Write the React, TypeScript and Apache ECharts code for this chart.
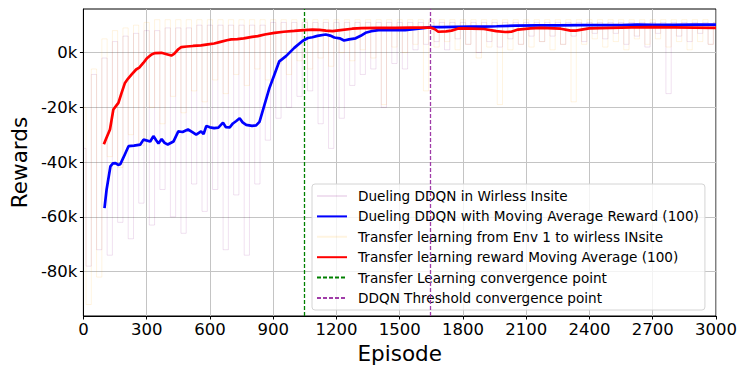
import React, { useEffect, useRef } from "react";
import * as echarts from "echarts";

// ---- data (values in thousands of reward) ----
const xTicksInterval = 300;
const yTickValues = [-80000, -60000, -40000, -20000, 0];
const yMin = -96200;
const yMax = 15900;

// raw episode rewards sampled every 25 episodes (k)
const rawStep = 25;
const ddqnRaw = [
  -35, -78, -8, -72, -2, -74, 4, -62, 6, -68, 7, -55, 8, -63, 8, -50, 9, -60, 9, -66,
  9, -48, 10, -58, 10, -50, 10, -72, 10, -52, 10, -74, 10, -48, 10, -32, 11, -24, 11, -20,
  11, -16, 11, -14, 11, -26, 11, -35, 11, -24, 11, -12, 11, -8, 11, -6, 11, -20, 11, -4,
  11, -6, 11, 1, 11, 3, 11, 4, 11, 1, 11, 5, 11, 3, 11, 0, 11, 4, 11, 2,
  11, 5, 11, 3, 11, 6, 11, 4, 11, 6, 11, 3, 11, 6, 11, 4, 11, 7, 11, 5,
  11, 7, 11, 3, 11, 6, 11, 2, 11, 7, 11, -15, 11, 6, 11, 4, 11, 7, 11, 3, 11,
];
const transferRaw = [
  -20, -92, -6, -82, 5, -38, 8, -42, 9, -30, 10, -34, 11, -20, 12, -26, 12, -16, 12, -22,
  12, -14, 12, -18, 12, -10, 12, -15, 12, -8, 12, -12, 12, -6, 12, -10, 12, -4, 12, -8,
  12, -3, 12, -6, 12, -2, 12, -5, 12, 0, 12, -3, 12, 1, 12, -2, 12, -19, 12, 2,
  12, 0, 12, 3, 12, -14, 12, 2, 12, 4, 12, 1, 12, 3, 12, -2, 12, 2, 12, -19,
  12, 1, 12, 3, 12, 2, 12, 4, 12, 1, 12, 3, 12, -18, 12, 3, 12, 5, 12, 2,
  12, 4, 12, 1, 12, 5, 12, 3, 12, 5, 12, 2, 12, 4, 12, 1, 12, 4, 12, 3, 11,
];

// moving averages (100) : episode, value (k)
const ddqnMaEp = [
  100, 110, 128, 140, 152, 165, 175, 190, 214, 240, 270, 285, 317, 332, 345, 356, 371, 385, 400, 427,
  450, 470, 496, 515, 535, 558, 570, 583, 600, 620, 640, 662, 675, 694, 709, 725, 741, 755, 772, 800,
  819, 835, 859, 882, 906, 929, 961, 1000, 1039, 1065, 1086, 1110, 1149, 1170, 1190, 1215, 1236, 1260,
  1291, 1315, 1338, 1365, 1400, 1460, 1526, 1600, 1650, 1700, 1760, 1840, 1900, 1960, 2050, 2154, 2250,
  2359, 2450, 2550, 2626, 2700, 2800, 2900, 3000,
];
const ddqnMaVal = [
  -56.8, -50, -41.6, -40.5, -40.4, -41, -40.8, -38.3, -34.2, -34, -33.6, -31.8, -32.5, -30.5, -32, -33.2, -31.6, -33, -33.6, -32.5,
  -28.8, -29, -28.1, -29, -30, -28.8, -29.8, -26.8, -27.3, -27.6, -27.4, -25.6, -27.2, -27.3, -25.9, -25, -24.0, -25.5, -26.4, -26.8,
  -26.6, -25.3, -19, -13, -8, -3.2, -1.3, 1.7, 4.2, 5.3, 5.6, 6.1, 6.6, 6.2, 5.5, 5.2, 4.4, 4.8,
  5.2, 6.1, 7.2, 7.8, 8.2, 8.2, 8.2, 8.8, 9.3, 9.3, 9.4, 9.5, 9.5, 9.6, 9.8, 9.9, 9.9,
  10.0, 10.0, 10.0, 10.2, 10.1, 10.1, 10.2, 10.2,
];
const transferMaEp = [
  97, 110, 126, 135, 142, 155, 166, 180, 197, 212, 229, 250, 265, 284, 300, 323, 340, 370, 395, 417,
  430, 450, 464, 490, 520, 558, 590, 620, 650, 680, 701, 730, 760, 800, 827, 860, 906, 950, 1000, 1047,
  1086, 1120, 1150, 1181, 1220, 1275, 1320, 1400, 1479, 1550, 1647, 1665, 1683, 1720, 1746, 1778, 1840,
  1900, 1958, 2000, 2029, 2061, 2120, 2170, 2264, 2311, 2335, 2398, 2500, 2600, 2700, 2800, 2900, 3000,
];
const transferMaVal = [
  -33.5, -31, -28.1, -24, -20.8, -19.5, -18.4, -15, -11.1, -9.5, -8.0, -6.2, -5.5, -3.8, -2.2, -0.7, -0.2, -0.1, -0.6, -1.1,
  -0.5, 1.2, 2.0, 2.2, 2.4, 2.6, 3.0, 3.3, 3.9, 4.5, 4.8, 4.9, 5.2, 5.7, 6.0, 6.6, 7.2, 7.6, 7.9, 8.2,
  8.4, 8.3, 8.0, 7.8, 8.2, 8.7, 8.9, 9.0, 9.0, 9.1, 9.1, 8.6, 7.6, 7.7, 8.0, 8.8, 8.7,
  8.6, 7.8, 7.5, 7.6, 8.4, 8.8, 9.0, 8.7, 8.0, 8.0, 8.8, 9.0, 9.2, 9.3, 9.2, 9.1, 9.0,
];
const transferConvergence = 1045;
const ddqnConvergence = 1645;

const seriesNames = [
  "Dueling DDQN in Wirless Insite",
  "Dueling DDQN with Moving Average Reward (100)",
  "Transfer learning from Env 1 to wirless INsite",
  "Transfer learning reward Moving Average (100)",
  "Transfer Learning convergence point",
  "DDQN Threshold convergence point",
];

const FONT = "DejaVu Sans";

const rawPairs = (arr: number[]) => arr.map((v, i) => [i * rawStep, v * 1000]);
const maPairs = (eps: number[], vals: number[]) => eps.map((e, i) => [e, vals[i] * 1000]);

export default function App() {
  const ref = useRef<HTMLDivElement>(null);
  useEffect(() => {
    if (!ref.current) return;
    const chart = echarts.init(ref.current, undefined, { renderer: "svg" });
    const vline = (name: string, x: number, color: string, z: number) => ({
      name,
      type: "line",
      data: [],
      symbol: "none",
      z,
      lineStyle: { color, width: 1.3, type: [4, 2] },
      itemStyle: { color },
      markLine: {
        silent: true,
        symbol: "none",
        label: { show: false },
        lineStyle: { color, width: 1.3, type: [4, 2] },
        data: [{ xAxis: x }],
      },
    });
    chart.setOption({
      animation: false,
      grid: {
        left: 80,
        right: 31,
        top: 9,
        bottom: 58,
        show: true,
        borderColor: "#000",
        borderWidth: 1,
        backgroundColor: "transparent",
      },
      legend: {
        orient: "vertical",
        left: 312,
        top: 184,
        padding: [5, 6, 5, 4],
        itemWidth: 30,
        itemHeight: 14,
        itemGap: 6.4,
        itemStyle: { opacity: 0 },
        backgroundColor: "rgba(255,255,255,0.8)",
        borderColor: "#d4d4d4",
        borderWidth: 1,
        borderRadius: 3,
        textStyle: { fontFamily: FONT, fontSize: 13.6, color: "#000", padding: [0, 0, 0, 6] },
        data: seriesNames,
      },
      xAxis: {
        type: "value",
        min: 0,
        max: 3000,
        interval: xTicksInterval,
        name: "Episode",
        nameLocation: "middle",
        nameGap: 21,
        nameTextStyle: { fontFamily: FONT, fontSize: 21.5, color: "#000" },
        axisLine: { show: true, onZero: false, lineStyle: { color: "#000", width: 1 } },
        axisTick: { show: true, length: 3.5, lineStyle: { color: "#000" } },
        axisLabel: {
          fontFamily: FONT,
          fontSize: 16.5,
          color: "#000",
          margin: 5,
          formatter: (v: number) => String(v),
        },
        splitLine: { show: true, lineStyle: { color: "#c4c4c4", width: 1 } },
      },
      yAxis: {
        type: "value",
        min: yMin,
        max: yMax,
        name: "Rewards",
        nameLocation: "middle",
        nameGap: 50,
        nameTextStyle: { fontFamily: FONT, fontSize: 21.5, color: "#000" },
        axisLine: { show: true, onZero: false, lineStyle: { color: "#000", width: 1 } },
        axisTick: { show: true, length: 3.5, lineStyle: { color: "#000" }, customValues: yTickValues },
        axisLabel: {
          fontFamily: FONT,
          fontSize: 16.5,
          color: "#000",
          margin: 6,
          customValues: yTickValues,
          formatter: (v: number) => `${Math.round(v / 1000)}k`,
        },
        splitLine: { show: true, lineStyle: { color: "#c4c4c4", width: 1 } },
      },
      series: [
        {
          name: seriesNames[0],
          type: "line",
          step: "middle",
          data: rawPairs(ddqnRaw),
          symbol: "none",
          z: 2,
          lineStyle: { color: "#800080", width: 1, opacity: 0.12 },
          itemStyle: { color: "#800080" },
        },
        {
          name: seriesNames[1],
          type: "line",
          data: maPairs(ddqnMaEp, ddqnMaVal),
          symbol: "none",
          z: 5,
          lineStyle: { color: "#0000ff", width: 2.7 },
          itemStyle: { color: "#0000ff" },
        },
        {
          name: seriesNames[2],
          type: "line",
          step: "middle",
          data: rawPairs(transferRaw),
          symbol: "none",
          z: 3,
          lineStyle: { color: "#ffa500", width: 1, opacity: 0.12 },
          itemStyle: { color: "#ffa500" },
        },
        {
          name: seriesNames[3],
          type: "line",
          data: maPairs(transferMaEp, transferMaVal),
          symbol: "none",
          z: 6,
          lineStyle: { color: "#ff0000", width: 2.7 },
          itemStyle: { color: "#ff0000" },
        },
        vline(seriesNames[4], transferConvergence, "#008000", 7),
        vline(seriesNames[5], ddqnConvergence, "#a03ca8", 7),
      ],
    });
    return () => chart.dispose();
  }, []);
  return <div ref={ref} style={{ width: 747, height: 374, margin: -8 }} />;
}
